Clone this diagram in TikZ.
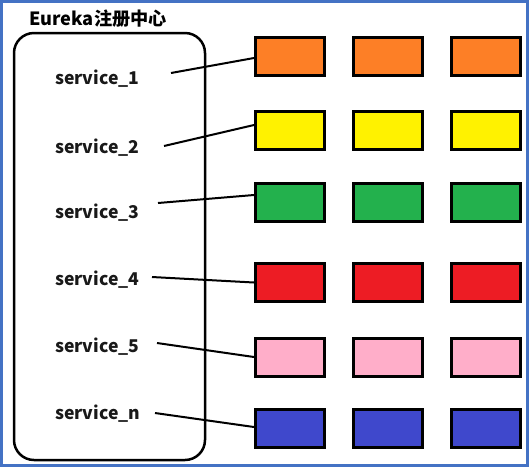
\documentclass[tikz,border=0pt]{standalone}
\usepackage{fontspec}
\setmainfont{Noto Sans CJK SC}
\usetikzlibrary{calc}
\definecolor{frameblue}{RGB}{68,114,196}
\definecolor{cOrange}{RGB}{253,127,38}
\definecolor{cYellow}{RGB}{255,242,0}
\definecolor{cGreen}{RGB}{35,177,77}
\definecolor{cRed}{RGB}{237,28,36}
\definecolor{cPink}{RGB}{255,174,201}
\definecolor{cBlue}{RGB}{63,72,204}
\begin{document}
\begin{tikzpicture}[x=1pt,y=-1pt,
  svc/.style={anchor=west,inner sep=0pt,font=\bfseries\fontsize{17.6}{19}\selectfont,text=black!90},
  inst/.style={draw=black,line width=3pt,minimum width=69pt,minimum height=38pt,inner sep=0pt},
  link/.style={draw=black,line width=2pt},
  registry/.style={draw=black,line width=2.5pt,rounded corners=20pt,inner sep=0pt,minimum width=191pt,minimum height=427pt}]
\useasboundingbox (0,0) rectangle (529,467);
\draw[frameblue,line width=3pt] (1.5,1.5) rectangle (527.5,465.5);
\node[anchor=west,inner sep=0pt,font=\bfseries\fontsize{18.2}{20}\selectfont] (title) at (29,18.5) {Eureka注册中心};
\node[registry] (reg) at (109.5,246.5) {};
% labels
\node[svc] (s1) at (55,78.5) {service\_1};
\node[svc] (s2) at (55,147.5) {service\_2};
\node[svc] (s3) at (55,212.5) {service\_3};
\node[svc] (s4) at (55,279.5) {service\_4};
\node[svc] (s5) at (55,346.5) {service\_5};
\node[svc] (sn) at (55,413.5) {service\_n};
% boxes
\foreach \r/\y/\c in {1/56.5/cOrange,2/130/cYellow,3/202/cGreen,4/282.5/cRed,5/357/cPink,6/428/cBlue}{
  \node[inst,fill=\c] (b\r1) at (290,\y) {};
  \node[inst,fill=\c] (b\r2) at (388,\y) {};
  \node[inst,fill=\c] (b\r3) at (486,\y) {};
}
% connector starts
\coordinate (p1) at (171,73);
\coordinate (p2) at (164,146);
\coordinate (p3) at (158,203);
\coordinate (p4) at (152,277);
\coordinate (p5) at (157,343);
\coordinate (p6) at (155,413);
\draw[link] (p1) -- ($(b11.west)+(0,1.5)$);
\draw[link] (p2) -- ($(b21.west)+(0,-5)$);
\draw[link] (p3) -- ($(b31.west)+(0,-7)$);
\draw[link] (p4) -- (b41.west);
\draw[link] (p5) -- (b51.west);
\draw[link] (p6) -- ($(b61.west)+(0,-1)$);
\end{tikzpicture}
\end{document}
